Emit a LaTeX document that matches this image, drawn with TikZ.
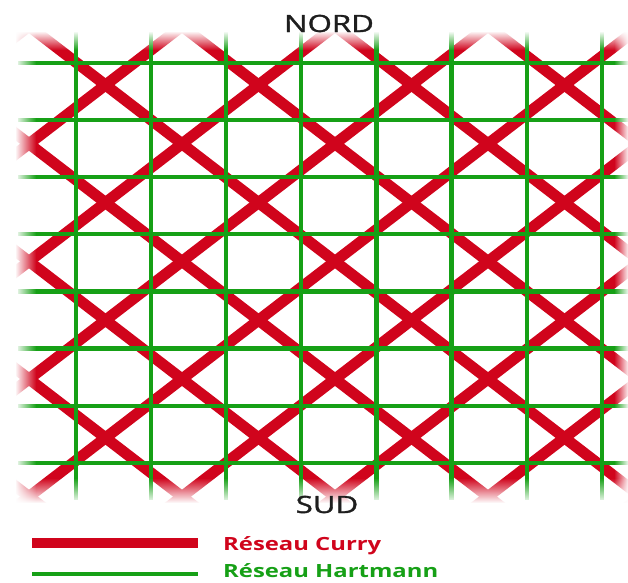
\documentclass[tikz,border=0pt]{standalone}
\usepackage{fontspec}
\setmainfont{Open Sans}
\newfontfamily\cardfont{Open Sans}[FakeBold=1.2]
\usetikzlibrary{fadings}
\definecolor{curry}{RGB}{208,4,28}
\definecolor{hart}{RGB}{22,160,22}
\definecolor{txt}{RGB}{30,30,30}
\tikzfading[name=fadetop, top color=transparent!0, bottom color=transparent!100]
\tikzfading[name=fadebot, top color=transparent!100, bottom color=transparent!0]
\tikzfading[name=fadeleft, left color=transparent!0, right color=transparent!100]
\tikzfading[name=faderight, left color=transparent!100, right color=transparent!0]
\begin{document}
\begin{tikzpicture}[x=1pt,y=1pt,
  curryline/.style={curry, line width=11pt},
  hartline/.style={hart, line width=4.2pt},
  whitefade/.style={fill=white, draw=none},
  cardinal/.style={anchor=base, inner sep=0pt, text=txt, font=\cardfont\fontsize{23.8}{26}\selectfont},
  legendtext/.style={anchor=base west, inner sep=0pt, font=\bfseries\fontsize{18.2}{20}\selectfont}]
\useasboundingbox (0,0) rectangle (628,-582);
\fill[white] (0,0) rectangle (628,-582);
% pattern
\begin{scope}
\clip (16,-32) rectangle (628,-502);
\foreach \m in {-5,...,8} {
  \draw[curryline] ({105.5+153*\m-2*76.5},{-85+2*58.8}) -- ++({11*76.5},{-11*58.8});
  \draw[curryline] ({105.5+153*\m+2*76.5},{-85+2*58.8}) -- ++({-11*76.5},{-11*58.8});
}
\foreach \i in {0,...,7} {
  \draw[hartline] (18,{-63-57.1*\i}) -- (628,{-63-57.1*\i});
  \draw[hartline] ({76+75.1*\i},-32) -- ({76+75.1*\i},-500);
}
\end{scope}
% soft edges
\fill[whitefade, path fading=fadetop] (0,-31) rectangle (628,-50);
\fill[whitefade, path fading=fadebot] (0,-478) rectangle (628,-503);
\fill[whitefade, path fading=fadeleft] (15,-30) rectangle (36,-504);
\fill[whitefade, path fading=faderight] (614,-30) rectangle (629,-504);
% labels
\node[cardinal] (nord) at (329,-32) {\scalebox{1.31}[1]{NORD}};
\node[cardinal] (sud) at (327,-513) {\scalebox{1.31}[1]{SUD}};
% legend
\coordinate (c1) at (32,-543);
\coordinate (c2) at (198,-543);
\draw[curry, line width=9.3pt] (c1) -- (c2);
\coordinate (h1) at (32,-574);
\coordinate (h2) at (198,-574);
\draw[hart, line width=4.3pt] (h1) -- (h2);
\node[legendtext, text=curry] (lc) at (223,-550) {\scalebox{1.31}[1]{Réseau Curry}};
\node[legendtext, text=hart] (lh) at (223,-577.5) {\scalebox{1.31}[1]{Réseau Hartmann}};
\end{tikzpicture}
\end{document}
